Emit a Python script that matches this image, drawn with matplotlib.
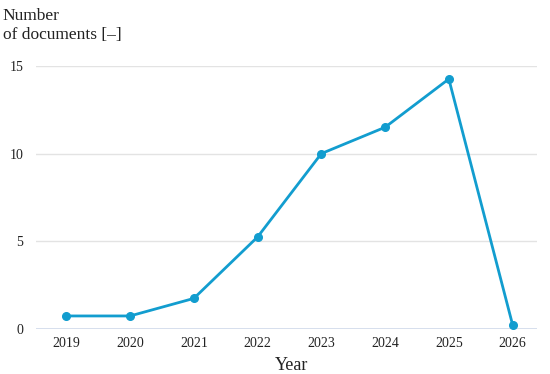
import matplotlib
matplotlib.use("Agg")
import matplotlib.pyplot as plt

years = [2019, 2020, 2021, 2022, 2023, 2024, 2025, 2026]
documents = [0.75, 0.75, 1.75, 5.25, 10.0, 11.5, 14.25, 0.25]
y_ticks = [0, 5, 10, 15]

plt.rcParams['font.family'] = ['Liberation Serif', 'DejaVu Serif']

fig = plt.figure(figsize=(5.5, 3.74), dpi=100)
ax = fig.add_axes([0.065, 0.120, 0.911, 0.704])

line_color = '#129dcf'
ax.plot(years, documents, color=line_color, lw=2, marker='o', ms=5.5,
        clip_on=False, zorder=3)

ax.set_xlim(2018.52, 2026.38)
ax.set_ylim(0, 15)
ax.set_xticks(years)
ax.set_xticklabels([str(y) for y in years], fontsize=10)
ax.set_yticks(y_ticks)
ax.set_yticklabels([str(t) for t in y_ticks], fontsize=10)
ax.tick_params(axis='both', length=0, colors='#222222')
ax.tick_params(axis='x', pad=6)
ax.tick_params(axis='y', pad=9)

for t in y_ticks:
    ax.axhline(t, color='#cfd9ea' if t == 0 else '#e3e3e3', lw=1.2 if t == 0 else 1, zorder=1)

for s in ax.spines.values():
    s.set_visible(False)

ax.set_xlabel('Year', fontsize=13, color='#222222')
ax.xaxis.set_label_coords(0.51, -0.105)
fig.text(0.005, 0.978, 'Number\nof documents [–]', fontsize=12.5, va='top', ha='left',
         color='#222222', linespacing=1.25)

fig.savefig('out.png', dpi=100)
